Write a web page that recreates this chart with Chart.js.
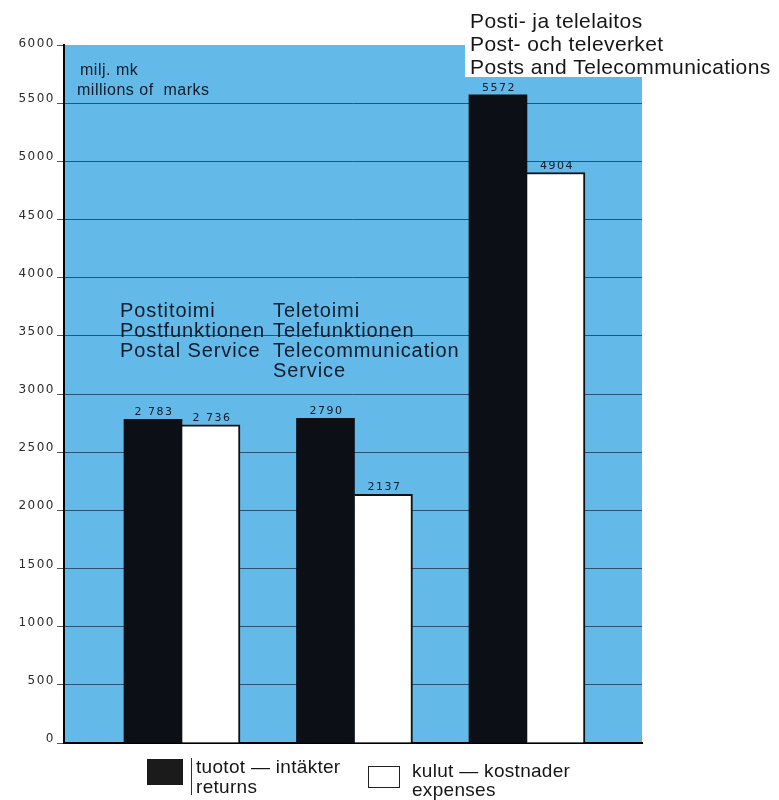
<!DOCTYPE html>
<html><head><meta charset="utf-8">
<script src="https://cdn.jsdelivr.net/npm/chart.js@4.4.1/dist/chart.umd.min.js"></script>
<style>html,body{margin:0;padding:0;background:#fff;}canvas{display:block;}</style>
</head><body>
<canvas id="c" width="779" height="800"></canvas>
<script>
// ---- data ----
const categories = [
  ['Postitoimi', 'Postfunktionen', 'Postal Service'],
  ['Teletoimi', 'Telefunktionen', 'Telecommunication', 'Service'],
  ['Posti- ja telelaitos', 'Post- och televerket', 'Posts and Telecommunications']
];
const returnsValues = [2783, 2790, 5572];
const expensesValues = [2736, 2137, 4904];
const seriesLabels = [['tuotot — intäkter', 'returns'], ['kulut — kostnader', 'expenses']];
const unitLabel = ['milj. mk', 'millions of  marks'];
const yMin = 0, yMax = 6000, yStep = 500;

// ---- styles ----
const BLUE = '#63b9e7';
const GRID = '#2a5274';
const INK = '#101b2b';
const SANS = '"Liberation Sans", Arial, sans-serif';
const DIGITS = '"DejaVu Sans", sans-serif';

function valueText(v, i) {
  return i === 0 ? String(v).replace(/^(\d)(\d{3})$/, '$1 $2') : String(v);
}

const bgPlugin = {
  id: 'bg',
  beforeDraw(chart) {
    const { ctx, chartArea: a } = chart;
    ctx.save();
    ctx.fillStyle = BLUE;
    ctx.fillRect(a.left, a.top, a.right - a.left, a.bottom - a.top);
    // white panel behind the overall title
    ctx.fillStyle = '#ffffff';
    ctx.fillRect(465, a.top - 2, a.right - 465 + 2, 34);
    ctx.restore();
  }
};

const textPlugin = {
  id: 'texts',
  afterDraw(chart) {
    const { ctx } = chart;
    const ys = chart.scales.y;
    ctx.save();
    // y tick labels
    ctx.font = '12px ' + DIGITS;
    ctx.fillStyle = '#2b2b2b';
    ctx.textAlign = 'right';
    ctx.textBaseline = 'alphabetic';
    ctx.letterSpacing = '1.5px';
    ys.ticks.forEach((t, i) => {
      const y = ys.getPixelForTick(i);
      ctx.fillText(String(t.value), 55, y + (t.value === yMax ? 2 : -1));
    });
    // value labels
    ctx.font = '11px ' + DIGITS;
    ctx.fillStyle = INK;
    ctx.textAlign = 'center';
    ctx.letterSpacing = '1.5px';
    chart.data.datasets.forEach((ds, di) => {
      const meta = chart.getDatasetMeta(di);
      meta.data.forEach((bar, i) => {
        ctx.fillText(valueText(ds.data[i].y, i), bar.x + 1, bar.y - 4);
      });
    });
    // unit label
    ctx.textAlign = 'left';
    ctx.fillStyle = INK;
    ctx.font = '16px ' + SANS;
    ctx.letterSpacing = '0.5px';
    ctx.fillText(unitLabel[0], 80, 75);
    ctx.fillText(unitLabel[1], 77, 95);
    // category annotations
    ctx.font = '20px ' + SANS;
    ctx.letterSpacing = '0.9px';
    const catPos = [{ x: 120, y: 317 }, { x: 273, y: 317 }];
    catPos.forEach((p, ci) => {
      categories[ci].forEach((line, li) => ctx.fillText(line, p.x, p.y + li * 20));
    });
    // overall title (third category)
    ctx.font = '21px ' + SANS;
    ctx.letterSpacing = '0.4px';
    ctx.fillStyle = '#161616';
    categories[2].forEach((line, li) => ctx.fillText(line, 470, 28 + li * 23));
    // legend
    const ds0 = chart.data.datasets[0], ds1 = chart.data.datasets[1];
    ctx.fillStyle = '#1b1b1b';
    ctx.fillRect(147, 759, 36, 26);
    ctx.strokeStyle = '#333';
    ctx.lineWidth = 1;
    ctx.beginPath(); ctx.moveTo(191.5, 758); ctx.lineTo(191.5, 795); ctx.stroke();
    ctx.fillStyle = '#ffffff';
    ctx.fillRect(368, 766, 31, 21);
    ctx.strokeStyle = '#222';
    ctx.strokeRect(368.5, 766.5, 31, 21);
    ctx.fillStyle = '#161616';
    ctx.font = '19px ' + SANS;
    ctx.letterSpacing = '0.3px';
    ds0.legendLines.forEach((line, li) => ctx.fillText(line, 196, 773 + li * 20));
    ds1.legendLines.forEach((line, li) => ctx.fillText(line, 412, 777 + li * 19));
    ctx.letterSpacing = '0px';
    ctx.restore();
  }
};

new Chart(document.getElementById('c').getContext('2d'), {
  type: 'bar',
  data: {
    datasets: [
      {
        label: seriesLabels[0].join(' / '),
        legendLines: seriesLabels[0],
        data: returnsValues.map((v, i) => ({ x: i + 1, y: v })),
        backgroundColor: '#0c0f16',
        borderWidth: 0
      },
      {
        label: seriesLabels[1].join(' / '),
        legendLines: seriesLabels[1],
        data: expensesValues.map((v, i) => ({ x: i + 1, y: v })),
        backgroundColor: '#ffffff',
        borderColor: '#111111',
        borderWidth: { top: 2, right: 2, left: 0, bottom: 0 },
        borderSkipped: 'bottom'
      }
    ]
  },
  options: {
    responsive: false,
    animation: false,
    devicePixelRatio: 1,
    layout: { padding: { top: 45, right: 137, left: 0, bottom: 0 } },
    datasets: { bar: { barThickness: 58 } },
    plugins: { legend: { display: false }, tooltip: { enabled: false } },
    scales: {
      x: {
        type: 'linear', min: 0.316, max: 3.667, offset: false,
        grid: { display: false, drawTicks: false },
        ticks: { display: false },
        border: { display: true, color: '#000', width: 2 },
        afterFit: s => { s.height = 57; }
      },
      y: {
        min: yMin, max: yMax,
        ticks: { stepSize: yStep, display: false },
        grid: {
          color: c => (c.tick && c.tick.value === yMax) ? 'rgba(0,0,0,0)' : GRID,
          lineWidth: 1, tickColor: '#555', tickLength: 7, drawTicks: true
        },
        border: { display: true, color: '#000', width: 2 },
        afterFit: s => { s.width = 64; }
      }
    }
  },
  plugins: [bgPlugin, textPlugin]
});
</script>
</body></html>
